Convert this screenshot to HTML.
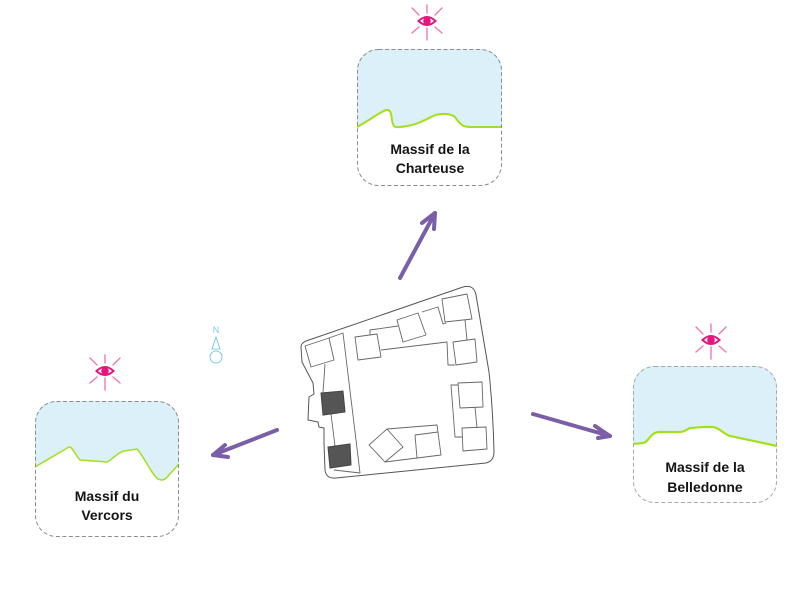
<!DOCTYPE html>
<html>
<head>
<meta charset="utf-8">
<style>
  html, body { margin: 0; padding: 0; background: #ffffff; }
  body { width: 800px; height: 590px; overflow: hidden; }
  svg { display: block; }
  .lbl { font-family: "Liberation Sans", sans-serif; font-weight: bold; font-size: 14px; fill: #141414; }
</style>
</head>
<body>
<svg width="800" height="590" viewBox="0 0 800 590" xmlns="http://www.w3.org/2000/svg">
  <defs>
    <clipPath id="cTop"><rect x="357" y="49" width="145" height="137" rx="21" ry="21"/></clipPath>
    <clipPath id="cLeft"><rect x="35" y="401" width="144" height="136" rx="21" ry="21"/></clipPath>
    <clipPath id="cRight"><rect x="633" y="366" width="144" height="137" rx="21" ry="21"/></clipPath>
    <g id="eye">
      <g stroke="#f07ab0" stroke-width="1.4" stroke-linecap="round">
        <line x1="0" y1="-16" x2="0" y2="-8"/>
        <line x1="0" y1="7" x2="0" y2="19"/>
        <line x1="-15" y1="-13" x2="-8" y2="-6"/>
        <line x1="15" y1="-13" x2="8" y2="-6"/>
        <line x1="-15" y1="12" x2="-8" y2="6"/>
        <line x1="15" y1="12" x2="8" y2="6"/>
      </g>
      <path d="M-8.5,0 Q0,-8 8.5,0 Q0,8 -8.5,0 Z" fill="#ffffff" stroke="#e4157c" stroke-width="2"/>
      <circle cx="0" cy="0" r="3.8" fill="#e4157c"/>
    </g>
  </defs>

  <!-- ===== Top card: Charteuse ===== -->
  <g clip-path="url(#cTop)">
    <path d="M350,40 L510,40 L510,127 L502,127 L470,127 C462,127 460,124 455,117 C450,113 440,113 433,116 C425,120 415,126 400,127 C394,128 393,126 392,120 C391,112 390,109 386,110 C380,112 370,120 357,127 L350,127 Z" fill="#dcf0f9"/>
    <path d="M357,127 C370,120 380,112 386,110 C390,109 391,112 392,120 C393,126 394,128 400,127 C415,126 425,120 433,116 C440,113 450,113 455,117 C460,124 462,127 470,127 L502,127" fill="none" stroke="#a3e01c" stroke-width="2"/>
  </g>
  <rect x="357.5" y="49.5" width="144" height="136" rx="21" ry="21" fill="none" stroke="#8c8c8c" stroke-width="1" stroke-dasharray="4,2.5"/>
  <text class="lbl" x="430" y="154" text-anchor="middle">Massif de la</text>
  <text class="lbl" x="430" y="173" text-anchor="middle">Charteuse</text>
  <use href="#eye" x="427" y="21"/>

  <!-- ===== Left card: Vercors ===== -->
  <g clip-path="url(#cLeft)">
    <path d="M30,395 L185,395 L185,464 L179,464 L168,476 C165,480 162,481 158,479 C152,475 145,458 137,449 L124,451 C118,452 112,460 107,462 L80,460 C76,456 72,446 69,447 L35,467 L30,467 Z" fill="#dcf0f9"/>
    <path d="M35,467 L69,447 C72,446 76,456 80,460 L107,462 C112,460 118,452 124,451 L137,449 C145,458 152,475 158,479 C162,481 165,480 168,476 L179,464" fill="none" stroke="#a3e01c" stroke-width="1.5"/>
  </g>
  <rect x="35.5" y="401.5" width="143" height="135" rx="21" ry="21" fill="none" stroke="#8c8c8c" stroke-width="1" stroke-dasharray="4,2.5"/>
  <text class="lbl" x="107" y="501" text-anchor="middle">Massif du</text>
  <text class="lbl" x="107" y="520" text-anchor="middle">Vercors</text>
  <use href="#eye" x="105" y="371"/>

  <!-- ===== Right card: Belledonne ===== -->
  <g clip-path="url(#cRight)">
    <path d="M628,360 L785,360 L785,446 L777,446 L730,436 C722,433 720,428 713,427 L705,427 C698,427 695,428 690,428 C686,430 684,432 680,432 L658,432 C650,433 648,443 643,443 L633,444 L628,444 Z" fill="#dcf0f9"/>
    <path d="M633,444 L643,443 C648,443 650,433 658,432 L680,432 C684,432 686,430 690,428 C695,428 698,427 705,427 L713,427 C720,428 722,433 730,436 L777,446" fill="none" stroke="#a3e01c" stroke-width="2.2"/>
  </g>
  <rect x="633.5" y="366.5" width="143" height="136" rx="21" ry="21" fill="none" stroke="#a8a8a8" stroke-width="1" stroke-dasharray="4,2.5"/>
  <text class="lbl" x="705" y="472" text-anchor="middle">Massif de la</text>
  <text class="lbl" x="705" y="492" text-anchor="middle">Belledonne</text>
  <use href="#eye" x="711" y="340"/>

  <!-- ===== North symbol ===== -->
  <g stroke="#7cc9ec" fill="none" stroke-width="1">
    <text x="216" y="333" text-anchor="middle" font-family="Liberation Sans, sans-serif" font-size="9" fill="#7cc9ec" stroke="none">N</text>
    <path d="M216,337 L212,349 L220,349 Z"/>
    <circle cx="216" cy="357" r="6"/>
  </g>

  <!-- ===== Arrows ===== -->
  <g stroke="#7a5fa8" stroke-width="4" stroke-linecap="round" stroke-linejoin="round" fill="none">
    <line x1="400" y1="278" x2="435" y2="213"/>
    <polyline points="422,223 435,213 434,229"/>
    <line x1="277" y1="430" x2="213" y2="455"/>
    <polyline points="225,445 213,455 228,457"/>
    <line x1="533" y1="414" x2="610" y2="436"/>
    <polyline points="595,426 610,436 598,438"/>
  </g>

  <!-- ===== Building plan ===== -->
  <g fill="none" stroke="#555555" stroke-width="1" stroke-linejoin="round">
    <!-- outer boundary -->
    <path d="M306,341 L463,287 Q474,284 476,295 L489,372 Q493,410 494,452 Q494,461 486,463 L336,478 Q326,479 325,470 L324,443 L324,428 L319,427 L318,422 L308,420 L309,397 L314,394 L313,383 L302,362 L301,347 Q301,343 306,341 Z"/>
  </g>
  <g fill="none" stroke="#666666" stroke-width="0.9" stroke-linejoin="round">
    <!-- left strip -->
    <path d="M329,338 L343,333 L360,473 L334,470"/>
    <polygon points="305,346 329,338 334,360 311,367"/>
    <line x1="325" y1="364" x2="323" y2="393"/>
    <line x1="331" y1="414" x2="335" y2="446"/>
    <!-- top row -->
    <polygon points="355,337 377,334 381,357 358,360"/>
    <polygon points="397,320 418,313 426,335 403,342"/>
    <polygon points="442,299 467,294 472,319 445,322"/>
    <polygon points="453,342 475,339 477,362 456,365"/>
    <polyline points="370,335 370,330 398,326"/>
    <polyline points="381,350 447,342 448,365 455,365"/>
    <polyline points="422,312 438,307 443,324 446,323"/>
    <line x1="465" y1="320" x2="467" y2="340"/>
    <!-- right column -->
    <polygon points="458,383 482,382 483,407 460,408"/>
    <polygon points="462,428 486,427 487,449 463,451"/>
    <polyline points="458,385 451,385 455,437 462,437"/>
    <line x1="475" y1="407" x2="477" y2="428"/>
    <!-- bottom group -->
    <polygon points="369,445 387,429 403,447 385,462"/>
    <polyline points="387,429 437,425 441,455 385,462"/>
    <polyline points="415,435 438,432"/>
    <line x1="415" y1="435" x2="417" y2="458"/>
  </g>
  <!-- dark squares -->
  <polygon points="321,393 343,391 345,412 323,415" fill="#555555" stroke="#444" stroke-width="1"/>
  <polygon points="328,447 350,444 351,465 330,468" fill="#555555" stroke="#444" stroke-width="1"/>
</svg>
</body>
</html>
